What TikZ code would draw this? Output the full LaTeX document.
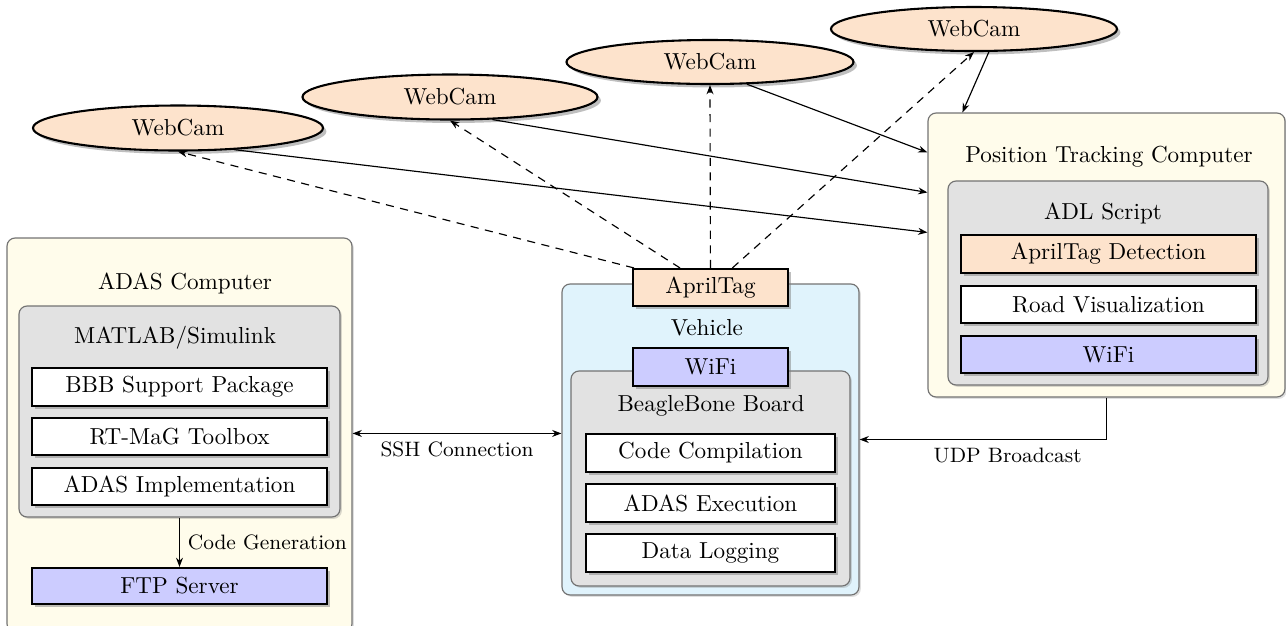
\documentclass[tikz,border=0pt]{standalone}
\usetikzlibrary{shadows,shapes.geometric,arrows.meta,fit,calc}
\definecolor{peach}{HTML}{FDE3CC}
\definecolor{lav}{HTML}{CCCCFF}
\definecolor{cream}{HTML}{FFFCEB}
\definecolor{sky}{HTML}{E0F3FC}
\definecolor{grayb}{HTML}{E2E2E2}
\begin{document}
\begin{tikzpicture}[x=0.432pt,y=-0.432pt,
  outer/.style={draw=black!55, line width=0.5pt, rounded corners=3.5pt, inner sep=0pt,
    drop shadow={shadow xshift=0.8pt,shadow yshift=-0.8pt,opacity=0.25}},
  grp/.style={draw=black!55, fill=grayb, line width=0.5pt, rounded corners=3.5pt, inner sep=0pt,
    drop shadow={shadow xshift=0.8pt,shadow yshift=-0.8pt,opacity=0.3}},
  item/.style={draw=black, line width=0.9pt, inner sep=0pt,
    drop shadow={shadow xshift=1.5pt,shadow yshift=-1.5pt,opacity=0.5}},
  cam/.style={ellipse, draw=black, line width=0.9pt, fill=peach, inner sep=0pt,
    minimum width=290*0.432pt, minimum height=45*0.432pt,
    drop shadow={shadow xshift=1.5pt,shadow yshift=-1.5pt,opacity=0.5}},
  ttl/.style={inner sep=0pt},
  elab/.style={font=\small},
  arr/.style={-{Stealth[length=4pt,width=3pt]}, line width=0.5pt},
  dsh/.style={arr, dashed, dash pattern=on 3.5pt off 2.8pt},
]
\useasboundingbox (0,0) rectangle (1286,625);

% ---- ADAS Computer
\node[outer, fill=cream, fit={(7,238)(352,632)}] (adas) {};
\node[ttl] (adast) at (185,283) {ADAS Computer};
\node[grp, fit={(19,306)(340,517)}] (matlab) {};
\node[ttl] (matlabt) at (175,338) {MATLAB/Simulink};
\node[item, fill=white, fit={(32,368)(327,406)}, label={[ttl]center:BBB Support Package}] (bbb) {};
\node[item, fill=white, fit={(32,418)(327,455)}, label={[ttl]center:RT-MaG Toolbox}] (rtmag) {};
\node[item, fill=white, fit={(32,468)(327,505)}, label={[ttl]center:ADAS Implementation}] (impl) {};
\node[item, fill=lav, fit={(32,568)(327,604)}, label={[ttl]center:FTP Server}] (ftp) {};

% ---- Vehicle
\node[outer, fill=sky, fit={(562,284)(859,595)}] (veh) {};
\node[ttl] (veht) at (707,328) {Vehicle};
\node[grp, fit={(571,371)(850,586)}] (bbone) {};
\node[ttl] (bbonet) at (711,406) {BeagleBone Board};
\node[item, fill=peach, fit={(633,269)(788,306)}, label={[ttl]center:AprilTag}] (tag) {};
\node[item, fill=lav, fit={(633,348)(788,386)}, label={[ttl]center:WiFi}] (vwifi) {};
\node[item, fill=white, fit={(586,434)(835,472)}, label={[ttl]center:Code Compilation}] (comp) {};
\node[item, fill=white, fit={(586,484)(835,522)}, label={[ttl]center:ADAS Execution}] (exec) {};
\node[item, fill=white, fit={(586,534)(835,572)}, label={[ttl]center:Data Logging}] (log) {};

% ---- Position Tracking Computer
\node[outer, fill=cream, fit={(928,113)(1285,397)}] (ptc) {};
\node[ttl] (ptct) at (1109,157) {Position Tracking Computer};
\node[grp, fit={(948,181)(1268,385)}] (adl) {};
\node[ttl] (adlt) at (1103,213) {ADL Script};
\node[item, fill=peach, fit={(961,235)(1256,273)}, label={[ttl]center:AprilTag Detection}] (det) {};
\node[item, fill=white, fit={(961,286)(1256,323)}, label={[ttl]center:Road Visualization}] (road) {};
\node[item, fill=lav, fit={(961,336)(1256,373)}, label={[ttl]center:WiFi}] (pwifi) {};

% ---- WebCams
\node[cam] (w1) at (178,128) {WebCam};
\node[cam, minimum width=295*0.432pt] (w2) at (450,97) {WebCam};
\node[cam, minimum width=287*0.432pt, minimum height=44*0.432pt] (w3) at (710,62) {WebCam};
\node[cam, minimum width=286*0.432pt, minimum height=44*0.432pt] (w4) at (974,29) {WebCam};

% ---- dashed: AprilTag to cams
\draw[dsh] (tag) -- (w1.south);
\draw[dsh] (tag) -- (w2.south);
\draw[dsh] (tag) -- (w3.south);
\draw[dsh] (tag) -- (w4.south);

% ---- solid: cams to PTC
\draw[arr] (w1.-21) -- ($(ptc.north west)+(0,120)$);
\draw[arr] (w2.-28) -- ($(ptc.north west)+(0,80)$);
\draw[arr] (w3.-31) -- ($(ptc.north west)+(0,40)$);
\draw[arr] (w4.-57) -- ($(ptc.north west)+(35,0)$);

% ---- other connections
\draw[arr] (matlab.south) -- node[elab, right] {Code Generation} (ftp.north);
\draw[arr, {Stealth[length=4pt,width=3pt]}-{Stealth[length=4pt,width=3pt]}]
  ($(adas.north east)+(0,196)$) -- node[elab, below] {SSH Connection} ($(adas.north east -| veh.west)+(0,196)$);
\draw[arr] (ptc.south) |- node[elab, pos=0.7, below] {UDP Broadcast} (veh.east);
\end{tikzpicture}
\end{document}
